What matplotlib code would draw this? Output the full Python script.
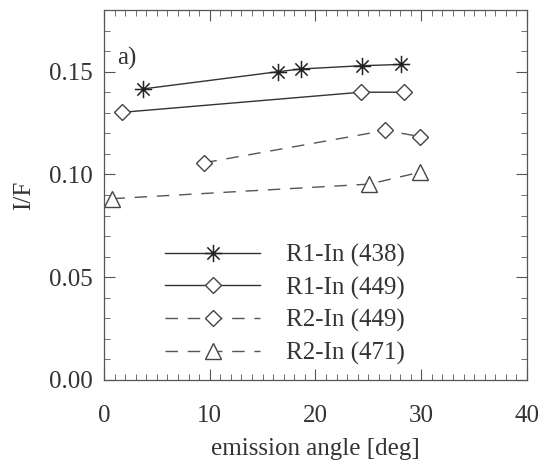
import matplotlib
matplotlib.use("Agg")
import matplotlib.pyplot as plt
from matplotlib.path import Path
from matplotlib.ticker import MultipleLocator

plt.rcParams['font.family'] = ['Liberation Serif', 'DejaVu Serif']
plt.rcParams['mathtext.fontset'] = 'stix'

# Data
r1_438_x = [3.7, 16.5, 18.6, 24.4, 28.1]
r1_438_y = [0.1416, 0.1500, 0.1513, 0.1529, 0.1535]
r1_449_x = [1.7, 24.3, 28.4]
r1_449_y = [0.1302, 0.1400, 0.1400]
r2_449_x = [9.5, 26.6, 29.9]
r2_449_y = [0.1057, 0.1214, 0.1184]
r2_471_x = [0.8, 25.1, 29.9]
r2_471_y = [0.0882, 0.0953, 0.1011]
labels = ["R1-In (438)", "R1-In (449)", "R2-In (449)", "R2-In (471)"]

# asterisk marker (vertical, horizontal, two diagonals)
d = 0.7071
ast = Path([(0, -1), (0, 1), (-1, 0), (1, 0), (-d, -d), (d, d), (-d, d), (d, -d)],
           [Path.MOVETO, Path.LINETO] * 4)

fig = plt.figure(figsize=(5.42, 4.62), dpi=100)
ax = fig.add_axes([0.1919, 0.1775, 0.7804, 0.8009])

lc = '#333333'
dc = '#555555'
dash = (0, (9, 7))
ax.plot(r1_438_x, r1_438_y, color=lc, lw=1.0, marker=ast, ms=12.5, mew=1.1,
        mec='#222222', label=labels[0])
ax.plot(r1_449_x, r1_449_y, color=lc, lw=1.0, marker='D', ms=8.5, mew=1.0,
        mec='#444444', mfc='white', label=labels[1])
ax.plot(r2_449_x, r2_449_y, color=dc, lw=1.0, ls=dash, marker='D', ms=8.5, mew=1.0,
        mec='#444444', mfc='white', label=labels[2])
ax.plot(r2_471_x, r2_471_y, color=dc, lw=1.0, ls=dash, marker='^', ms=11.5, mew=1.0,
        mec='#444444', mfc='white', label=labels[3])

ax.set_xlim(0, 40)
ax.set_ylim(0, 0.18)
ax.xaxis.set_major_locator(MultipleLocator(10))
ax.xaxis.set_minor_locator(MultipleLocator(1))
ax.yaxis.set_major_locator(MultipleLocator(0.05))
ax.yaxis.set_minor_locator(MultipleLocator(0.01))
ax.yaxis.set_major_formatter(matplotlib.ticker.FormatStrFormatter('%.2f'))
ax.tick_params(which='both', direction='in', top=True, right=True,
               color='#555555', labelsize=18, labelcolor='#333333')
ax.tick_params(which='major', length=8, width=0.8, pad=8)
ax.tick_params(axis='x', which='major', pad=18)
ax.tick_params(which='minor', length=4, width=0.6)
for s in ax.spines.values():
    s.set_color('#555555')
    s.set_linewidth(0.9)

ax.set_xlabel('emission angle [deg]', fontsize=18, color='#333333', labelpad=8)
ax.set_ylabel('I/F', fontsize=18, color='#333333', labelpad=10)
ax.text(0.03, 0.868, 'a)', transform=ax.transAxes, fontsize=18, color='#333333',
        ha='left', va='center')

leg = ax.legend(loc='lower left', bbox_to_anchor=(0.103, -0.006), frameon=False,
                fontsize=18, handlelength=3.8, handletextpad=1.05,
                labelspacing=0.38, borderpad=0.2, labelcolor='#333333')

fig.savefig('out.png', dpi=100)
